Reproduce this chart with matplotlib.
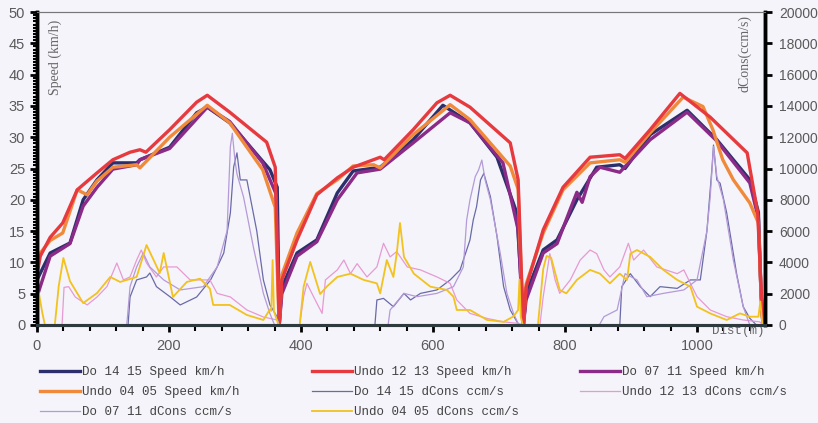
import matplotlib
matplotlib.use("Agg")
import matplotlib.pyplot as plt
from matplotlib.ticker import MultipleLocator

# ---- speed series (distance m, km/h) ----
navy_d = [0, 20, 50, 70, 91, 115, 151, 156, 201, 242, 258, 292, 353, 364, 366, 367,
          371, 394, 424, 455, 479, 520, 570, 615, 656, 697, 727, 734, 737,
          741, 767, 788, 818, 848, 883, 891, 929, 985, 1030, 1080, 1093, 1097, 1100]
navy_v = [7.2, 11.5, 13.1, 20, 23.2, 25.9, 25.9, 26.4, 28.4, 33.9, 34.8, 32.3, 24.8, 22, 8, 0,
          6, 11.5, 13.6, 21.1, 24.6, 25.2, 29.6, 35.1, 32.3, 26.8, 17.9, 6, 0,
          5, 12, 13.6, 20, 25.2, 25.6, 25, 30.4, 34.3, 29.6, 23.2, 18, 5, 0]

red_d = [0, 5, 20, 39, 61, 91, 115, 141, 156, 165, 201, 242, 258, 292, 348, 361, 365, 367,
         371, 394, 424, 455, 479, 520, 526, 570, 606, 626, 656, 717, 729, 734, 737,
         741, 767, 797, 838, 883, 891, 929, 974, 1020, 1076, 1092, 1097, 1100]
red_v = [8, 11, 14, 16.3, 21.6, 24.3, 26.4, 27.6, 28, 27.6, 31.2, 35.6, 36.7, 34, 29.2, 25.2, 8, 0,
         7.2, 13.6, 20.8, 23.5, 25.2, 26.8, 26.4, 31.2, 35.5, 36.7, 34.8, 29.1, 23.2, 8, 0,
         6, 15.2, 22, 26.8, 27.2, 26.6, 31.2, 37, 33.2, 27.5, 17.9, 6, 0]

purp_d = [0, 20, 50, 70, 91, 115, 151, 156, 201, 258, 292, 342, 362, 366, 367,
          371, 394, 424, 455, 485, 520, 570, 626, 656, 706, 729, 734, 737,
          741, 767, 788, 808, 818, 826, 838, 853, 883, 929, 985, 1030, 1080, 1093, 1097, 1100]
purp_v = [4.5, 11, 13, 19, 22, 24.9, 25.6, 26.4, 28.2, 34.8, 32.5, 25.9, 21, 7, 0,
          5, 11, 13.3, 20, 24.3, 24.9, 29.1, 33.9, 32.3, 25.9, 15.2, 5, 0,
          4, 11.5, 13, 18.5, 21.2, 19.6, 23.7, 25.2, 24.4, 29.6, 34, 29.4, 22.7, 17, 5, 0]

orng_d = [0, 5, 20, 39, 61, 76, 91, 115, 151, 156, 201, 258, 292, 342, 361, 365, 367,
          371, 394, 424, 455, 479, 510, 520, 570, 626, 656, 717, 729, 734, 737,
          741, 767, 797, 838, 883, 891, 929, 979, 1009, 1024, 1039, 1055, 1080, 1093, 1097, 1100]
orng_v = [9, 11.5, 13.5, 14.7, 21.6, 20.8, 23, 25.2, 25.6, 25.1, 30, 35.1, 32.3, 24.8, 18.8, 6, 0,
          8, 14.7, 21, 23.2, 25.4, 25.6, 25.1, 30.4, 35.2, 32.8, 25.4, 21.7, 7, 0,
          6.5, 14.7, 21.6, 25.9, 26.4, 26, 30.7, 36.4, 34.9, 31.2, 26.4, 23.2, 19.5, 16.3, 5, 0]

# ---- dCons series (distance m, ccm/s) ----
blue_d = [0, 138, 141, 151, 166, 171, 181, 202, 217, 242, 263, 273, 283, 293, 298, 303, 308, 318,
          333, 343, 353, 364, 367,
          512, 515, 525, 540, 556, 566, 581, 606, 626, 641, 656, 661, 666, 672, 677, 687, 697, 707,
          717, 730,
          883, 886, 899, 914, 929, 944, 970, 990, 1005, 1015, 1023, 1025, 1030, 1035, 1045, 1060,
          1070, 1080, 1090, 1103]
blue_c = [0, 0, 1790, 2880, 3070, 3320, 2450, 1790, 1280, 1790, 2880, 3710, 4600, 7160, 10100, 11000,
          9270, 9270, 6010, 2880, 1280, 510, 0,
          0, 1600, 1700, 1170, 2020, 1600, 2020, 2240, 2880, 3520, 5430, 6710, 7560, 9270, 9690, 8200,
          5650, 2450, 960, 0,
          0, 2450, 3280, 2450, 1810, 2450, 2340, 2880, 2880, 6010, 10220, 11500, 9270, 9060, 7160,
          3280, 1170, 430, 0, 0]

pink_d = [0, 38, 41, 48, 58, 76, 91, 106, 121, 131, 141, 151, 158, 166, 181, 192, 212, 232, 262,
          273, 293, 318, 343, 364, 367,
          398, 404, 409, 419, 432, 437, 455, 465, 475, 485, 500, 515, 525, 535, 545, 561, 581, 606,
          626, 636, 656, 682, 707, 730, 737,
          762, 767, 777, 785, 792, 808, 823, 838, 848, 859, 868, 883, 896, 904, 919, 939, 970, 980,
          990, 1000, 1020, 1045, 1070, 1095, 1100]
pink_c = [0, 0, 2400, 2450, 1790, 1280, 1790, 2450, 3960, 2880, 3070, 4150, 4790, 3960, 3070, 3710,
          3710, 2880, 2880, 2020, 1790, 960, 510, 320, 0,
          0, 1810, 2660, 1810, 740, 2880, 3520, 4150, 3280, 3920, 3070, 3710, 5220, 4350, 4690, 3710,
          3520, 3070, 2660, 1600, 740, 420, 200, 100, 0,
          0, 1810, 4560, 2880, 2020, 2880, 4150, 4790, 4560, 3520, 3070, 3710, 5220, 4150, 4790, 3710,
          3280, 3520, 2660, 1810, 960, 530, 320, 200, 0]

lav_d = [0, 136, 141, 151, 161, 171, 192, 217, 252, 273, 288, 293, 296, 300, 303, 313, 328, 343,
         353, 360,
         532, 535, 556, 576, 606, 631, 646, 651, 656, 664, 669, 674, 679, 687, 702, 712, 722, 730,
         852, 859, 879, 891, 909, 924, 949, 980, 1000, 1015, 1020, 1025, 1030, 1040, 1055, 1070,
         1080, 1103]
lav_c = [0, 0, 2450, 3710, 4600, 3710, 2880, 2240, 2450, 3710, 6010, 11400, 12250, 10500, 9650,
         8170, 4950, 2020, 720, 0,
         0, 960, 2020, 1810, 2020, 2450, 3710, 6710, 7990, 9480, 9900, 10540, 9270, 7990, 4560, 2020,
         740, 0,
         0, 530, 960, 3280, 2880, 1810, 2020, 2240, 2880, 6010, 8170, 11400, 9500, 7990, 4150, 1170,
         0, 0]

yell_d = [0, 3, 8, 12, 27, 33, 40, 50, 70, 91, 111, 126, 151, 166, 186, 192, 206, 227, 247, 262,
          267, 292, 318, 343, 353, 355, 357, 359, 362, 366,
          398, 404, 414, 429, 439, 455, 475, 495, 515, 520, 530, 540, 545, 550, 556, 571, 596, 621,
          631, 636, 656, 682, 707, 722, 729, 731, 733, 736,
          759, 767, 772, 779, 792, 802, 818, 838, 853, 868, 883, 894, 899, 909, 929, 949, 970, 990,
          1000, 1020, 1045, 1065, 1080, 1093, 1096, 1099, 1103]
yell_c = [2400, 2000, 800, 0, 0, 2500, 4280, 2800, 1400, 2040, 3070, 2750, 3070, 5110, 3320, 4600,
          1790, 2750, 2960, 2320, 1280, 1280, 640, 320, 1000, 900, 4150, 900, 500, 0,
          0, 2450, 4030, 1980, 2450, 3070, 3280, 2880, 2660, 2020, 4150, 3070, 4560, 6520, 4350, 3280,
          2450, 2240, 1810, 960, 960, 320, 200, 550, 960, 2900, 500, 0,
          0, 3580, 4410, 4300, 2240, 2020, 2880, 3520, 3280, 2660, 3280, 2880, 4560, 4790, 4350, 3520,
          2880, 2450, 1170, 740, 320, 740, 530, 530, 1500, 0, 0]

bg = "#f4f4fa"
fig = plt.figure(figsize=(8.18, 4.23), dpi=100, facecolor=bg)
ax = fig.add_axes([0.0452, 0.2317, 0.8900, 0.7399])
ax.set_facecolor(bg)
ax2 = ax.twinx()

l_navy, = ax.plot(navy_d, navy_v, color="#2c2f6b", lw=2.4, label="Do 14 15 Speed km/h")
l_purp, = ax.plot(purp_d, purp_v, color="#8c2a88", lw=2.4, label="Do 07 11 Speed km/h")
l_orng, = ax.plot(orng_d, orng_v, color="#f0893a", lw=2.4, label="Undo 04 05 Speed km/h")
l_red, = ax.plot(red_d, red_v, color="#e63a3f", lw=2.4, label="Undo 12 13 Speed km/h")

l_blue, = ax2.plot(blue_d, blue_c, color="#6a6aa8", lw=0.9, label="Do 14 15 dCons ccm/s")
l_pink, = ax2.plot(pink_d, pink_c, color="#e79ad2", lw=0.9, label="Undo 12 13 dCons ccm/s")
l_lav, = ax2.plot(lav_d, lav_c, color="#b59ad8", lw=0.9, label="Do 07 11 dCons ccm/s")
l_yell, = ax2.plot(yell_d, yell_c, color="#f2c21e", lw=1.3, label="Undo 04 05 dCons ccm/s")

ax.set_xlim(0, 1103)
ax.set_ylim(0, 50)
ax2.set_ylim(0, 20000)

ax.xaxis.set_major_locator(MultipleLocator(200))
ax.xaxis.set_minor_locator(MultipleLocator(40))
ax.yaxis.set_major_locator(MultipleLocator(5))
ax.yaxis.set_minor_locator(MultipleLocator(0.5))
ax2.yaxis.set_major_locator(MultipleLocator(2000))

tc = "#5a5a5a"
ax.tick_params(axis="both", which="major", direction="out", length=5, width=2,
               labelsize=10.5, labelcolor=tc)
ax.tick_params(axis="y", which="minor", direction="out", length=3, width=1.5)
ax.tick_params(axis="x", which="minor", direction="out", length=4, width=1.5)
ax2.tick_params(axis="y", which="major", direction="out", length=5, width=2,
                labelsize=10, labelcolor=tc, pad=5)
ax.tick_params(axis="x", pad=5)
for lab in ax.get_xticklabels() + ax.get_yticklabels() + ax2.get_yticklabels():
    lab.set_family("Liberation Sans")

for a in (ax, ax2):
    a.spines["left"].set_linewidth(2.5)
    a.spines["right"].set_linewidth(2.5)
    a.spines["bottom"].set_linewidth(2.2)
    a.spines["bottom"].set_color("#2f3a3e")
    a.spines["top"].set_linewidth(0.8)
    a.spines["top"].set_color("#777777")

ax.text(0.025, 0.975, "Speed (km/h)", rotation=90, transform=ax.transAxes,
        va="top", ha="center", fontsize=10, color="#666666", family="Liberation Serif")
ax2.text(0.972, 0.99, "dCons(ccm/s)", rotation=90, transform=ax.transAxes,
         va="top", ha="center", fontsize=10, color="#666666", family="Liberation Serif")
ax.text(0.927, -0.02, "Dist(m)", transform=ax.transAxes, va="center", ha="left",
        fontsize=9, color="#666666", family="Liberation Mono")

cols = [([l_navy, l_orng, l_lav], 40), ([l_red, l_blue, l_yell], 312), ([l_purp, l_pink], 580)]
for hs, xpx in cols:
    leg = fig.legend(handles=hs, labels=[h.get_label() for h in hs], ncol=1,
                     loc="upper left", bbox_to_anchor=(xpx / 818, 1 - 366 / 423), frameon=False,
                     prop={"family": "Liberation Mono", "size": 9}, handlelength=3.2,
                     handletextpad=0.15, labelspacing=0.65, borderpad=0, borderaxespad=0)
    for t in leg.get_texts():
        t.set_color("#444444")

fig.savefig("out.png", dpi=100, facecolor=bg)
